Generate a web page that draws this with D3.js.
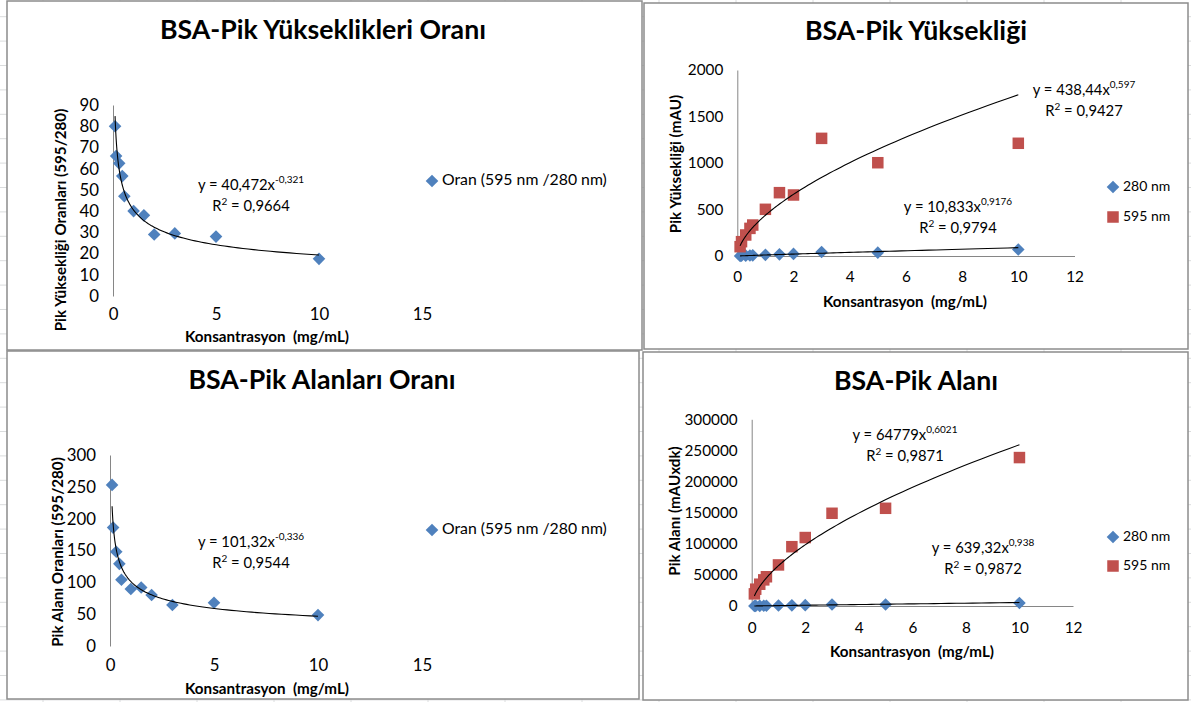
<!DOCTYPE html>
<html>
<head>
<meta charset="utf-8">
<script src="https://cdn.jsdelivr.net/npm/d3@7"></script>
<style>
  body { margin: 0; background: #fff; }
  svg { display: block; }
  text { font-family: Lato, "Open Sans", sans-serif; fill: #000; }
</style>
</head>
<body>
<svg id="sheet" width="1191" height="702"></svg>
<script>
// BSA concentrations (mg/mL) and measured responses
const concentrations = [0.1, 0.15, 0.3, 0.45, 0.55, 1, 1.5, 2, 3, 5, 10];
const heightRatio    = [80, 66, 62.5, 56.5, 47, 40, 38, 29, 29.5, 28, 17.5];
const areaRatio      = [253, 186, 148, 129, 104, 89.5, 92, 80, 64.5, 68, 48.5];
const height280      = [1.3, 2.3, 3.6, 5.3, 7, 12.5, 18, 22.5, 43, 36, 70];
const height595      = [100, 154, 226, 297, 333, 502, 681, 656, 1265, 1003, 1212];
const area280        = [77, 145, 236, 326, 452, 737, 1036, 1375, 2310, 2309, 4918];
const area595        = [19500, 27000, 35000, 42000, 47000, 66000, 95300, 110000, 149000, 157000, 238500];

// Power trend lines y = a * x^b with their R²
const fitHeightRatio = { a: 40.472, b: -0.321, aText: "40,472", bText: "-0,321", r2: "0,9664" };
const fitAreaRatio   = { a: 101.32, b: -0.336, aText: "101,32", bText: "-0,336", r2: "0,9544" };
const fitHeight280   = { a: 10.833, b: 0.9176, aText: "10,833", bText: "0,9176", r2: "0,9794" };
const fitHeight595   = { a: 438.44, b: 0.597,  aText: "438,44", bText: "0,597",  r2: "0,9427" };
const fitArea280     = { a: 639.32, b: 0.938,  aText: "639,32", bText: "0,938",  r2: "0,9872" };
const fitArea595     = { a: 64779,  b: 0.6021, aText: "64779",  bText: "0,6021", r2: "0,9871" };

// Axis ticks
const ratioXTicks = [0, 5, 10, 15];
const concXTicks = [0, 2, 4, 6, 8, 10, 12];
const heightRatioTicks = [0, 10, 20, 30, 40, 50, 60, 70, 80, 90];
const areaRatioTicks = [0, 50, 100, 150, 200, 250, 300];
const heightTicks = [0, 500, 1000, 1500, 2000];
const areaTicks = [0, 50000, 100000, 150000, 200000, 250000, 300000];

const BLUE = "#4F81BD", RED = "#C0504D";
const svg = d3.select("#sheet");

// Worksheet cell grid behind the chart objects
const grid = svg.append("g").attr("stroke", "#dadcdd").attr("stroke-width", 1);
d3.range(-7.7, 702, 24.4).forEach(y => grid.append("line").attr("x1", 0).attr("x2", 1191).attr("y1", y).attr("y2", y));
d3.range(43, 1191, 77).forEach(x => grid.append("line").attr("x1", x).attr("x2", x).attr("y1", 0).attr("y2", 702));

function marker(g, shape, color, cx, cy) {
  if (shape === "diamond") {
    const r = 6.3;
    g.append("path").attr("d", `M${cx},${cy - r}L${cx + r},${cy}L${cx},${cy + r}L${cx - r},${cy}Z`).attr("fill", color);
  } else {
    const s = 11.5;
    g.append("rect").attr("x", cx - s / 2).attr("y", cy - s / 2).attr("width", s).attr("height", s).attr("fill", color);
  }
}

function equation(g, fit, cx, cy, fs) {
  const t1 = g.append("text").attr("x", cx).attr("y", cy).attr("text-anchor", "middle")
    .attr("dominant-baseline", "middle").style("font-size", fs + "px");
  t1.append("tspan").text(`y = ${fit.aText}x`);
  t1.append("tspan").attr("dy", -6).style("font-size", "10px").text(fit.bText);
  const t2 = g.append("text").attr("x", cx).attr("y", cy + 21).attr("text-anchor", "middle")
    .attr("dominant-baseline", "middle").style("font-size", fs + "px");
  t2.append("tspan").text("R");
  t2.append("tspan").attr("dy", -5).style("font-size", "10px").text("2");
  t2.append("tspan").attr("dy", 5).text(" = " + fit.r2);
}

function drawChart(cfg) {
  const g = svg.append("g");
  const [px, py, pw, ph] = cfg.panel;
  g.append("rect").attr("x", px).attr("y", py).attr("width", pw).attr("height", ph)
    .attr("fill", "#fff").attr("stroke", "#8c8c8c").attr("stroke-width", 1.5);

  g.append("text").attr("x", cfg.titleX).attr("y", cfg.titleY).attr("text-anchor", "middle")
    .attr("dominant-baseline", "middle").style("font-size", "26.7px").style("font-weight", "bold").text(cfg.title);

  const x = d3.scaleLinear().domain(cfg.xDomain).range(cfg.xRange);
  const y = d3.scaleLinear().domain(cfg.yDomain).range(cfg.yRange);

  const yAxis = g.append("g").attr("transform", `translate(${cfg.xRange[0]},0)`)
    .call(d3.axisLeft(y).tickValues(cfg.yTicks).tickSize(0).tickPadding(14).tickFormat(d3.format("d")));
  yAxis.select(".domain").attr("stroke", "#868686");
  yAxis.selectAll("text").style("font-size", cfg.tickFs + "px").style("font-family", "Lato, sans-serif").attr("fill", "#000");

  const xAxis = g.append("g").attr("transform", `translate(0,${cfg.yRange[0]})`)
    .call(d3.axisBottom(x).tickValues(cfg.xTicks).tickSize(0).tickPadding(cfg.xPad).tickFormat(d3.format("d")));
  xAxis.select(".domain").attr("stroke", cfg.xAxisLine ? "#868686" : "none");
  xAxis.selectAll("text").style("font-size", cfg.tickFs + "px").style("font-family", "Lato, sans-serif").attr("fill", "#000");

  g.append("text").attr("x", cfg.xTitleX).attr("y", cfg.xTitleY).attr("text-anchor", "middle")
    .attr("dominant-baseline", "middle").style("font-size", "15.2px").style("font-weight", "bold")
    .style("white-space", "pre").text("Konsantrasyon  (mg/mL)");
  g.append("text").attr("transform", `translate(${cfg.yTitleX},${cfg.yTitleY}) rotate(-90)`)
    .attr("text-anchor", "middle").attr("dominant-baseline", "middle")
    .style("font-size", "15.2px").style("font-weight", "bold").text(cfg.yTitle);

  cfg.series.forEach(s => {
    // trend line, drawn across the measured concentration range
    const lo = d3.min(concentrations), hi = d3.max(concentrations);
    const xs = d3.range(0, 121).map(i => lo * Math.pow(hi / lo, i / 120));
    const line = d3.line().x(d => x(d)).y(d => y(s.fit.a * Math.pow(d, s.fit.b)));
    const ms = g.append("g");
    concentrations.forEach((c, i) => marker(ms, s.shape, s.color, x(c), y(s.values[i])));
    g.append("path").attr("d", line(xs)).attr("fill", "none").attr("stroke", "#000").attr("stroke-width", 1.1);
    equation(g, s.fit, s.eqX, s.eqY, 14.8);
  });

  cfg.legend.forEach(item => {
    marker(g, item.shape, item.color, item.x, item.y);
    g.append("text").attr("x", item.x + 10).attr("y", item.y).attr("dominant-baseline", "middle")
      .style("font-size", cfg.legendFs + "px").text(item.label);
  });
}

drawChart({
  panel: [7, 1, 635, 349], title: "BSA-Pik Yükseklikleri Oranı", titleX: 323, titleY: 32,
  xDomain: [0, 15], xRange: [113, 422], yDomain: [0, 90], yRange: [296, 105],
  xTicks: ratioXTicks, yTicks: heightRatioTicks, xPad: 12, xAxisLine: false, tickFs: 16.8, legendFs: 15.8,
  xTitleX: 267, xTitleY: 338, yTitle: "Pik Yüksekliği Oranları (595/280)", yTitleX: 62, yTitleY: 220,
  series: [{ values: heightRatio, shape: "diamond", color: BLUE, fit: fitHeightRatio, eqX: 251, eqY: 186 }],
  legend: [{ shape: "diamond", color: BLUE, x: 432, y: 181, label: "Oran (595 nm /280 nm)" }]
});

drawChart({
  panel: [644, 3, 544, 346], title: "BSA-Pik Yüksekliği", titleX: 916, titleY: 33,
  xDomain: [0, 12], xRange: [737.3, 1074.5], yDomain: [0, 2000], yRange: [256, 70],
  xTicks: concXTicks, yTicks: heightTicks, xPad: 15, xAxisLine: true, tickFs: 15.3, legendFs: 14,
  xTitleX: 905, xTitleY: 303, yTitle: "Pik Yüksekliği (mAU)", yTitleX: 677, yTitleY: 164,
  series: [
    { values: height280, shape: "diamond", color: BLUE, fit: fitHeight280, eqX: 958, eqY: 208 },
    { values: height595, shape: "square", color: RED, fit: fitHeight595, eqX: 1084, eqY: 91 }
  ],
  legend: [
    { shape: "diamond", color: BLUE, x: 1113, y: 187, label: "280 nm" },
    { shape: "square", color: RED, x: 1113, y: 217, label: "595 nm" }
  ]
});

drawChart({
  panel: [7, 351, 632, 348], title: "BSA-Pik Alanları Oranı", titleX: 322, titleY: 382,
  xDomain: [0, 15], xRange: [110, 422], yDomain: [0, 300], yRange: [646, 455],
  xTicks: ratioXTicks, yTicks: areaRatioTicks, xPad: 13, xAxisLine: false, tickFs: 16.8, legendFs: 15.8,
  xTitleX: 267, xTitleY: 690, yTitle: "Pik Alanı Oranları (595/280)", yTitleX: 59, yTitleY: 552,
  series: [{ values: areaRatio, shape: "diamond", color: BLUE, fit: fitAreaRatio, eqX: 251, eqY: 543 }],
  legend: [{ shape: "diamond", color: BLUE, x: 432, y: 530, label: "Oran (595 nm /280 nm)" }]
});

drawChart({
  panel: [643, 352, 545, 348], title: "BSA-Pik Alanı", titleX: 916, titleY: 383,
  xDomain: [0, 12], xRange: [751.7, 1073], yDomain: [0, 300000], yRange: [606, 419.3],
  xTicks: concXTicks, yTicks: areaTicks, xPad: 16, xAxisLine: true, tickFs: 15.3, legendFs: 14,
  xTitleX: 912, xTitleY: 653, yTitle: "Pik Alanı (mAUxdk)", yTitleX: 676, yTitleY: 511,
  series: [
    { values: area280, shape: "diamond", color: BLUE, fit: fitArea280, eqX: 983, eqY: 549 },
    { values: area595, shape: "square", color: RED, fit: fitArea595, eqX: 905, eqY: 436 }
  ],
  legend: [
    { shape: "diamond", color: BLUE, x: 1113, y: 537, label: "280 nm" },
    { shape: "square", color: RED, x: 1113, y: 566, label: "595 nm" }
  ]
});
</script>
</body>
</html>
